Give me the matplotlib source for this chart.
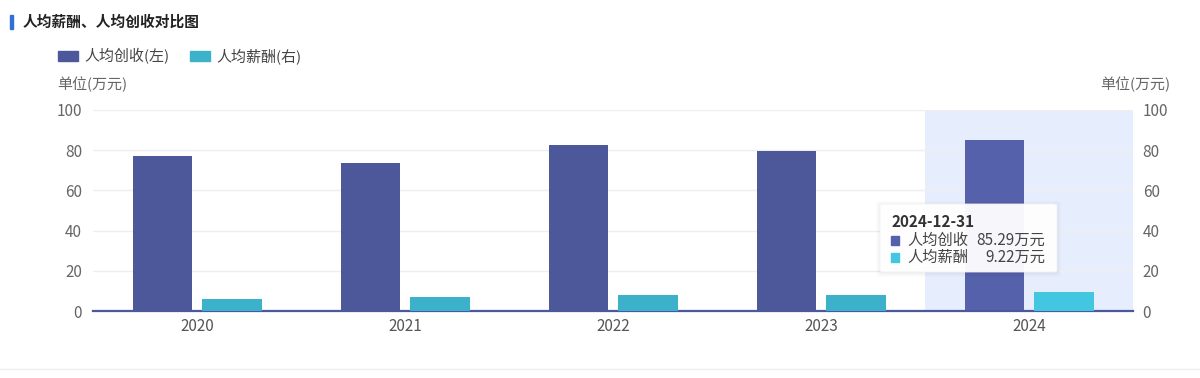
import matplotlib.pyplot as plt
from matplotlib.patches import FancyBboxPatch, Rectangle
import numpy as np

plt.rcParams['font.family'] = ['Noto Sans CJK SC', 'DejaVu Sans']

years = ['2020', '2021', '2022', '2023', '2024']
revenue = [77.0, 73.5, 82.6, 79.6, 85.29]   # 人均创收 (左)
salary = [6.2, 7.1, 8.0, 8.1, 9.22]         # 人均薪酬 (右)
tip_date = '2024-12-31'

W, H = 1200, 378
DARK = '#4c5899'
CYAN = '#3bb2c9'
DARK_HI = '#5562ab'
CYAN_HI = '#43c6df'


def fx(x):
    return x / W


def fy(y):
    return 1 - y / H


fig = plt.figure(figsize=(12, 3.78), dpi=100)
ax = fig.add_axes([fx(93), fy(311), fx(1133) - fx(93), fy(110) - fy(311)])
ax2 = ax.twinx()

x = np.arange(len(years))
hl = len(years) - 1
ax.axvspan(hl - 0.5, hl + 0.5, color='#e6edfc', zorder=0, lw=0)

cols_l = [DARK_HI if i == hl else DARK for i in x]
cols_r = [CYAN_HI if i == hl else CYAN for i in x]
ax.bar(x - 0.166, revenue, width=0.288, color=cols_l, zorder=3)
ax2.bar(x + 0.168, salary, width=0.288, color=cols_r, zorder=3)

for a in (ax, ax2):
    a.set_ylim(0, 100)
    a.set_yticks([0, 20, 40, 60, 80, 100])
    a.set_xlim(-0.5, len(years) - 0.5)
    for s in a.spines.values():
        s.set_visible(False)
    a.tick_params(length=0, labelsize=11, labelcolor='#666666')
ax.grid(axis='y', color='#eeeeee', lw=1, zorder=1)
ax.set_axisbelow(True)
ax.spines['bottom'].set_visible(True)
ax.spines['bottom'].set_color(DARK)
ax.spines['bottom'].set_linewidth(1.6)
ax.spines['bottom'].set_zorder(5)
ax.set_xticks(x)
ax.set_xticklabels(years)
ax.tick_params(axis='x', pad=5, labelcolor='#555555')
ax.tick_params(axis='y', pad=8)
ax2.tick_params(axis='y', pad=7)

# title
fig.patches.append(Rectangle((fx(10), fy(29)), fx(3), fy(15) - fy(29),
                             transform=fig.transFigure, color='#2f6fdc'))
fig.text(fx(23), fy(22), '人均薪酬、人均创收对比图', fontsize=10.6,
         fontweight='bold', color='#222222', va='center')

# legend
for lx, c, lab in [(58, DARK, '人均创收(左)'), (190, CYAN, '人均薪酬(右)')]:
    fig.patches.append(Rectangle((fx(lx), fy(61)), fx(20), fy(51) - fy(61),
                                 transform=fig.transFigure, color=c))
    fig.text(fx(lx + 26), fy(56), lab, fontsize=10.8, color='#444444', va='center')

# units
fig.text(fx(57), fy(84), '单位(万元)', fontsize=10.8, color='#666666', va='center')
fig.text(fx(1170), fy(84), '单位(万元)', fontsize=10.8, color='#666666',
         va='center', ha='right')

# tooltip
for k in range(1, 5):
    fig.patches.append(FancyBboxPatch((fx(880 - k), fy(272 + k + 1)), fx(177 + 2 * k),
                                      fy(204 - k + 1) - fy(272 + k + 1),
                                      boxstyle='round,pad=0,rounding_size=0.005',
                                      transform=fig.transFigure, fc='#000000',
                                      ec='none', alpha=0.012, lw=0))
fig.patches.append(FancyBboxPatch((fx(880), fy(272)), fx(177), fy(204) - fy(272),
                                  boxstyle='round,pad=0,rounding_size=0.004',
                                  transform=fig.transFigure, fc='white',
                                  ec='#f2f2f2', alpha=0.96, lw=0.6, zorder=10))
fig.text(fx(891), fy(222), tip_date, fontsize=11, fontweight='bold',
         color='#333333', va='center', zorder=11)
for ty, c, name, val in [(240, DARK_HI, '人均创收', revenue[hl]),
                         (257, CYAN_HI, '人均薪酬', salary[hl])]:
    fig.patches.append(Rectangle((fx(891), fy(ty + 4.5)), fx(8), fy(ty - 4.5) - fy(ty + 4.5),
                                 transform=fig.transFigure, color=c, zorder=11))
    fig.text(fx(907), fy(ty), name, fontsize=11, color='#444444', va='center', zorder=11)
    fig.text(fx(1045), fy(ty), f'{val:.2f}万元', fontsize=11, color='#444444',
             va='center', ha='right', zorder=11)

# bottom separator
fig.add_artist(plt.Line2D([0, 1], [fy(369), fy(369)], transform=fig.transFigure,
                          color='#eeeeee', lw=1))

fig.savefig('out.png', dpi=100)
